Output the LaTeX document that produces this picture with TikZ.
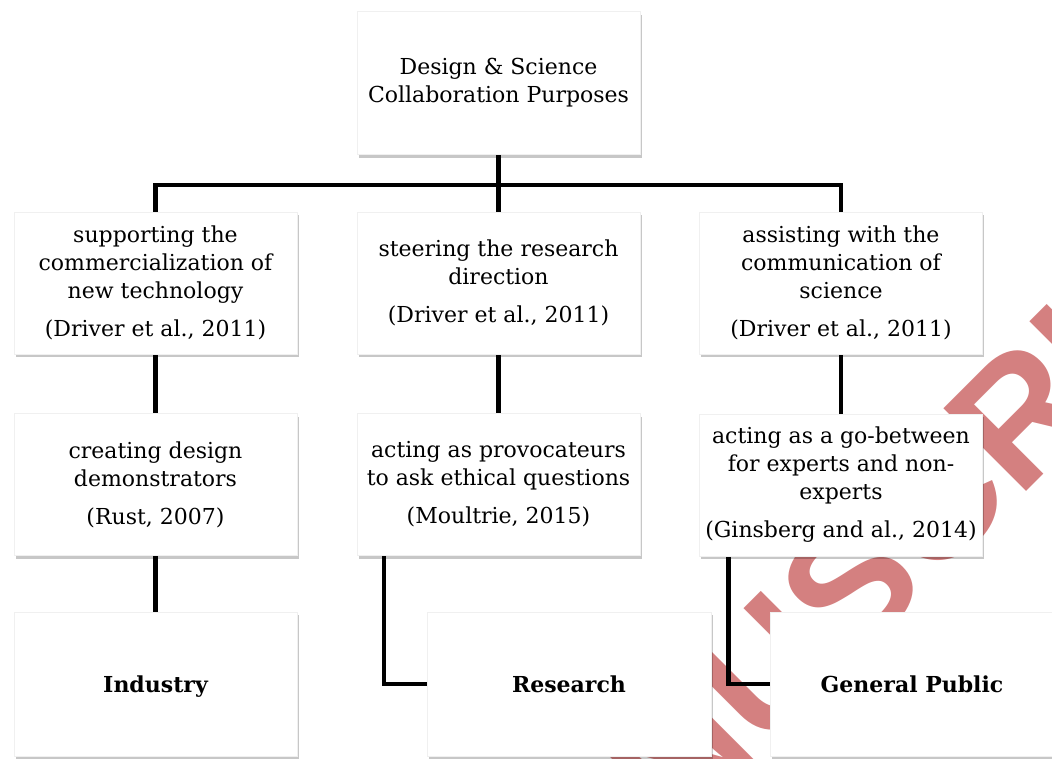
\documentclass[tikz,border=0pt]{standalone}
\usepackage{fontspec}
\setmainfont{DejaVu Serif}
\newfontfamily\wmfont{Liberation Sans}
\usetikzlibrary{shadows}
\pgfdeclarelayer{wm}\pgfdeclarelayer{bg}\pgfsetlayers{wm,bg,main}
\definecolor{wmred}{RGB}{212,128,128}
\tikzset{
 box/.style={draw=black!6, fill=white, minimum width=283pt, minimum height=142pt,
   inner sep=0pt, align=center, font=\fontsize{22}{28}\selectfont,
   drop shadow={shadow xshift=1.5pt, shadow yshift=-3pt, fill=black, opacity=0.22}},
 lbl/.style={box, font=\fontsize{22}{28}\selectfont\bfseries, text height=16pt, text depth=0pt},
 conn/.style={line width=4.5pt, black, line join=miter},
}
\begin{document}
\begin{tikzpicture}[x=1pt,y=-1pt]
\useasboundingbox (0,0) rectangle (1052,758);
\node[box, minimum height=143pt] (top) at (498.5,83) {Design \& Science\\Collaboration Purposes};
\node[box] (a1) at (155.5,283) {supporting the\\commercialization of\\new technology\\[10pt](Driver et al., 2011)};
\node[box] (b1) at (498.5,283) {steering the research\\direction\\[10pt](Driver et al., 2011)};
\node[box] (c1) at (841,283) {assisting with the\\communication of\\science\\[10pt](Driver et al., 2011)};
\node[box] (a2) at (155.5,484.5) {creating design\\demonstrators\\[10pt](Rust, 2007)};
\node[box] (b2) at (498.5,484.5) {acting as provocateurs\\to ask ethical questions\\[10pt](Moultrie, 2015)};
\node[box] (c2) at (841,485) {acting as a go-between\\for experts and non-\\experts\\[10pt](Ginsberg and al., 2014)};
\node[lbl, minimum height=144pt] (a3) at (155.5,684) {Industry};
\node[lbl, minimum height=144pt, minimum width=284pt] (b3) at (569,684) {Research};
\node[lbl, minimum height=144pt, minimum width=284pt] (c3) at (912,684) {General Public};
\begin{pgfonlayer}{wm}
\node[rotate=45, text=wmred, font=\wmfont\bfseries\fontsize{170}{170}\selectfont, inner sep=0pt] (wm) at (850,585) {\llap{ACCEPTED }MANUSCRIPT};
\end{pgfonlayer}
\begin{pgfonlayer}{bg}
\draw[conn] (top.south) -- (b1.north);
\draw[conn] (a1.north) -- ++(0,-27) -| (c1.north);
\draw[conn] (a1.south) -- (a2.north);
\draw[conn] (b1.south) -- (b2.north);
\draw[conn] (c1.south) -- (c2.north);
\draw[conn] (a2.south) -- (a3.north);
\draw[conn] ([xshift=27pt]b2.south west) |- (b3.west);
\draw[conn] ([xshift=29pt]c2.south west) |- (c3.west);
\end{pgfonlayer}
\end{tikzpicture}
\end{document}
